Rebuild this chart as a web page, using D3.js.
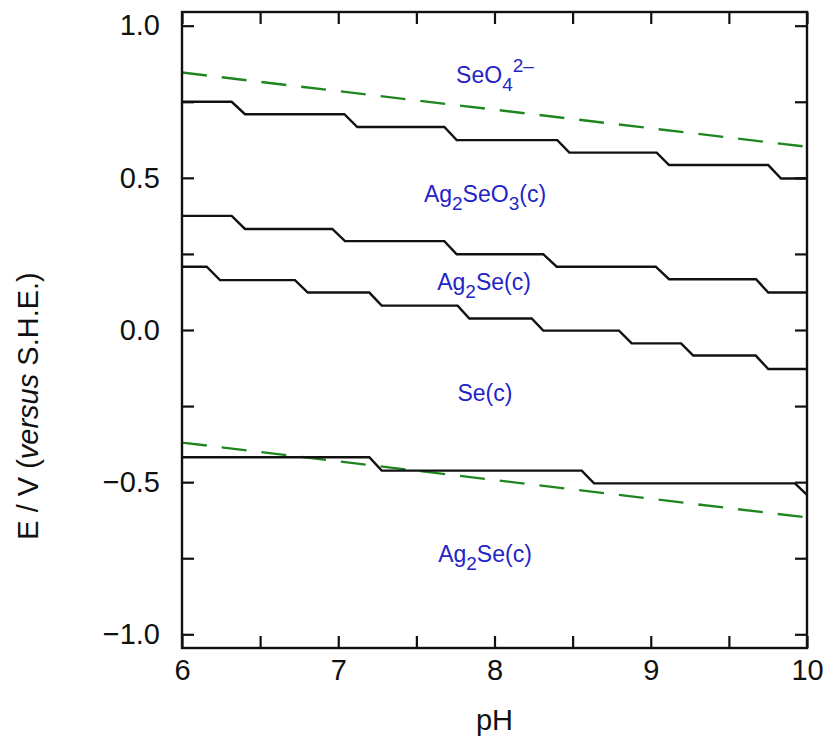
<!DOCTYPE html>
<html>
<head>
<meta charset="utf-8">
<script src="https://cdn.jsdelivr.net/npm/d3@7"></script>
<style>
  html, body { margin: 0; padding: 0; background: #fff; }
  svg { display: block; }
  text { font-family: "Liberation Sans", Arial, Helvetica, sans-serif; }
</style>
</head>
<body>
<svg id="chart" width="828" height="751"></svg>
<script>
// ---------- data ----------
const xMajorTicks = [6, 7, 8, 9, 10];
const xMinorTicks = [6.5, 7.5, 8.5, 9.5];
const yMajorTicks = [-1.0, -0.5, 0.0, 0.5, 1.0];
const yMinorTicks = [-0.75, -0.25, 0.25, 0.75];

// water stability limits (green dashed)
const waterPH = [6, 10];
const waterUpperE = [0.846, 0.602];
const waterLowerE = [-0.370, -0.616];

// boundary SeO4(2-) / Ag2SeO3(c)
const b1PH = [6, 6.318, 6.403, 7.039, 7.122, 7.679, 7.758, 8.402, 8.479, 9.038, 9.117, 9.752, 9.834, 10];
const b1E  = [0.750, 0.750, 0.709, 0.709, 0.667, 0.667, 0.624, 0.624, 0.583, 0.583, 0.542, 0.542, 0.498, 0.498];

// boundary Ag2SeO3(c) / Ag2Se(c)
const b2PH = [6, 6.318, 6.403, 6.962, 7.043, 7.679, 7.758, 8.312, 8.398, 9.032, 9.117, 9.674, 9.752, 10];
const b2E  = [0.375, 0.375, 0.332, 0.332, 0.292, 0.292, 0.249, 0.249, 0.208, 0.208, 0.167, 0.167, 0.123, 0.123];

// boundary Ag2Se(c) / Se(c)
const b3PH = [6, 6.158, 6.243, 6.723, 6.805, 7.199, 7.278, 7.764, 7.839, 8.238, 8.312, 8.797, 8.878, 9.194, 9.272, 9.672, 9.752, 10];
const b3E  = [0.208, 0.208, 0.164, 0.164, 0.123, 0.123, 0.080, 0.080, 0.038, 0.038, -0.002, -0.002, -0.044, -0.044, -0.084, -0.084, -0.128, -0.128];

// boundary Se(c) / Ag2Se(c)
const b4PH = [6, 7.199, 7.278, 8.558, 8.637, 9.923, 10];
const b4E  = [-0.418, -0.418, -0.462, -0.462, -0.504, -0.504, -0.542];

// region labels: parts [text, kind] with kind n=normal, sub, sup
const labelParts = [
  [["SeO", "n"], ["4", "sub"], ["2\u2013", "sup"]],
  [["Ag", "n"], ["2", "sub"], ["SeO", "n"], ["3", "sub"], ["(c)", "n"]],
  [["Ag", "n"], ["2", "sub"], ["Se(c)", "n"]],
  [["Se(c)", "n"]],
  [["Ag", "n"], ["2", "sub"], ["Se(c)", "n"]]
];
const labelPH = [8.003, 7.939, 7.933, 7.939, 7.939];
const labelE  = [0.812, 0.420, 0.130, -0.233, -0.762];

const xTitle = "pH";

// ---------- layout ----------
const svg = d3.select("#chart");
const mLeft = 182, mRight = 807, mTop = 12, mBottom = 648;
const x = d3.scaleLinear().domain([6, 10]).range([mLeft, mRight]);
const y = d3.scaleLinear().domain([-1.045, 1.045]).range([mBottom, mTop]);
const tickLen = 12;
const fmt = d3.format(".1f");
const axisFont = "29px";

svg.append("defs").append("clipPath").attr("id", "clip")
  .append("rect").attr("x", mLeft).attr("y", mTop)
  .attr("width", mRight - mLeft).attr("height", mBottom - mTop);

const plot = svg.append("g").attr("clip-path", "url(#clip)");

function pts(px, py) { return px.map((v, i) => [v, py[i]]); }
const line = d3.line().x(d => x(d[0])).y(d => y(d[1]));

// green dashed lines
[waterUpperE, waterLowerE].forEach(e => {
  plot.append("path").datum(pts(waterPH, e))
    .attr("d", line).attr("fill", "none")
    .attr("stroke", "#1f861f").attr("stroke-width", 2.4)
    .attr("stroke-dasharray", "25,15");
});

// black step boundaries
[[b1PH, b1E], [b2PH, b2E], [b3PH, b3E], [b4PH, b4E]].forEach(([p, e]) => {
  plot.append("path").datum(pts(p, e))
    .attr("d", line).attr("fill", "none")
    .attr("stroke", "#111").attr("stroke-width", 2.4)
    .attr("stroke-linejoin", "miter");
});

// axes
function styleAxis(g) {
  g.select(".domain").remove();
  g.selectAll(".tick line").attr("stroke", "#111").attr("stroke-width", 2.2);
  g.selectAll(".tick text").attr("fill", "#111")
    .style("font-family", '"Liberation Sans", Arial, sans-serif')
    .style("font-size", axisFont);
}

const allX = xMajorTicks.concat(xMinorTicks);
const allY = yMajorTicks.concat(yMinorTicks);

// bottom with labels
svg.append("g").attr("transform", `translate(0,${mBottom})`)
  .call(d3.axisBottom(x).tickValues(xMajorTicks).tickSizeInner(-tickLen).tickSizeOuter(0).tickPadding(11).tickFormat(d3.format("d")))
  .call(styleAxis);
svg.append("g").attr("transform", `translate(0,${mBottom})`)
  .call(d3.axisBottom(x).tickValues(xMinorTicks).tickSizeInner(-tickLen).tickSizeOuter(0).tickFormat(""))
  .call(styleAxis);
// top
svg.append("g").attr("transform", `translate(0,${mTop})`)
  .call(d3.axisTop(x).tickValues(allX).tickSizeInner(-tickLen).tickSizeOuter(0).tickFormat(""))
  .call(styleAxis);
// left with labels
svg.append("g").attr("transform", `translate(${mLeft},0)`)
  .call(d3.axisLeft(y).tickValues(yMajorTicks).tickSizeInner(-tickLen).tickSizeOuter(0).tickPadding(22).tickFormat(fmt))
  .call(styleAxis);
svg.append("g").attr("transform", `translate(${mLeft},0)`)
  .call(d3.axisLeft(y).tickValues(yMinorTicks).tickSizeInner(-tickLen).tickSizeOuter(0).tickFormat(""))
  .call(styleAxis);
// right
svg.append("g").attr("transform", `translate(${mRight},0)`)
  .call(d3.axisRight(y).tickValues(allY).tickSizeInner(-tickLen).tickSizeOuter(0).tickFormat(""))
  .call(styleAxis);

// frame
svg.append("rect").attr("x", mLeft).attr("y", mTop)
  .attr("width", mRight - mLeft).attr("height", mBottom - mTop)
  .attr("fill", "none").attr("stroke", "#111").attr("stroke-width", 2.4);

// axis titles
svg.append("text").attr("x", (mLeft + mRight) / 2).attr("y", 730)
  .attr("text-anchor", "middle").attr("fill", "#111")
  .style("font-size", axisFont).text(xTitle);

const yT = svg.append("text")
  .attr("transform", "translate(38,406) rotate(-90)")
  .attr("text-anchor", "middle").attr("fill", "#111")
  .style("font-size", axisFont);
yT.append("tspan").text("E / V (");
yT.append("tspan").style("font-style", "italic").text("versus");
yT.append("tspan").text(" S.H.E.)");

// region labels
const labelColor = "#2323c6";
labelParts.forEach((parts, i) => {
  const t = svg.append("text")
    .attr("x", x(labelPH[i])).attr("y", y(labelE[i]))
    .attr("text-anchor", "middle").attr("fill", labelColor)
    .style("font-size", "23px");
  let shift = 0;
  parts.forEach(([s, kind]) => {
    let target = 0, size = "23px";
    if (kind === "sub") { target = 8; size = "19px"; }
    if (kind === "sup") { target = -11; size = "19px"; }
    t.append("tspan").attr("dy", target - shift).style("font-size", size).text(s);
    shift = target;
  });
});
</script>
</body>
</html>
